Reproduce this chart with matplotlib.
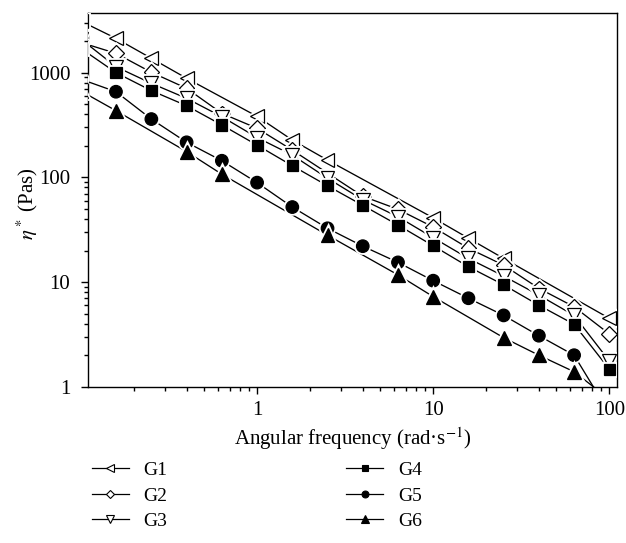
import numpy as np
import matplotlib
matplotlib.use("Agg")
import matplotlib.pyplot as plt
from matplotlib.lines import Line2D
from matplotlib.ticker import FixedLocator, LogLocator, NullFormatter, FixedFormatter
import matplotlib.patheffects as pe

plt.rcParams['font.family'] = ['Liberation Serif', 'DejaVu Serif']
plt.rcParams['mathtext.fontset'] = 'stix'

nan = np.nan
freq = [0.1, 0.158, 0.251, 0.398, 0.631, 1.0, 1.585, 2.512, 3.981, 6.31,
        10.0, 15.85, 25.12, 39.81, 63.1, 100.0]

series_names = ["G1", "G2", "G3", "G4", "G5", "G6"]
g1 = [3100, 2125, 1370, 883, nan, 382, 227, 146, nan, nan, 41, 26.2, 16.8, nan, nan, 4.5]
g2 = [1940, 1528, 1007, 708, 408, 294, 182, nan, 66, 49.5, 33.5, 21, 14.5, 8.7, 5.8, 3.19]
g3 = [2090, 1138, 790, 568, 379, 240, 163, 98, 61, 42, 26.5, 16.8, 11.4, 7.5, 4.8, 1.76]
g4 = [1700, 1000, 673, 483, 316, 203, 129, 83, 54, 35, 22.2, 14, 9.4, 6.0, 3.95, 1.47]
g5 = [865, 657, 360, 216, 144, 89, 52, 32.6, 22, 15.4, 10.3, 7.0, 4.8, 3.07, 2.0, 0.56]
g6 = [667, 433, nan, 176, 107, nan, nan, 28, nan, 11.7, 7.25, nan, 2.94, 2.0, 1.39, 0.76]
values = [g1, g2, g3, g4, g5, g6]

x_ticks = [1, 10, 100]
x_ticklabels = ["1", "10", "100"]
y_ticks = [1, 10, 100, 1000]
y_ticklabels = ["1", "10", "100", "1000"]

styles = [
    dict(marker='<', mfc='white', ms=10),
    dict(marker='D', mfc='white', ms=8),
    dict(marker='v', mfc='white', ms=10),
    dict(marker='s', mfc='black', ms=8),
    dict(marker='o', mfc='black', ms=9),
    dict(marker='^', mfc='black', ms=10),
]

fig = plt.figure(figsize=(6.26, 5.43), dpi=100)
ax = fig.add_axes([0.141, 0.2878, 0.844, 0.688])
ax.set_xscale('log')
ax.set_yscale('log')

x_arr = np.array(freq)
for name, vals, st in zip(series_names, values, styles):
    y = np.array(vals, dtype=float)
    m = np.isfinite(y)
    ax.plot(x_arr[m], y[m], '-', color='black', lw=0.95, zorder=2)
    ax.plot(x_arr[m], y[m], ls='none', marker=st['marker'], ms=st['ms'],
            mfc=st['mfc'], mec='black', mew=0.9, zorder=3,
            path_effects=[pe.withStroke(linewidth=3.5, foreground='white')])

ax.set_xlim(0.11, 110)
ax.set_ylim(1, 3700)

ax.xaxis.set_major_locator(FixedLocator(x_ticks))
ax.xaxis.set_major_formatter(FixedFormatter(x_ticklabels))
ax.yaxis.set_major_locator(FixedLocator(y_ticks))
ax.yaxis.set_major_formatter(FixedFormatter(y_ticklabels))
ax.xaxis.set_minor_locator(LogLocator(base=10, subs=np.arange(2, 10)))
ax.yaxis.set_minor_locator(LogLocator(base=10, subs=np.arange(2, 10)))
ax.xaxis.set_minor_formatter(NullFormatter())
ax.yaxis.set_minor_formatter(NullFormatter())
ax.tick_params(which='both', direction='out', top=False, right=False, width=1.0,
               labelsize=15)
ax.tick_params(which='major', length=5, pad=5)
ax.tick_params(axis='y', which='major', pad=8)
ax.tick_params(which='minor', length=3)
for sp in ax.spines.values():
    sp.set_linewidth(1.0)

ax.set_xlabel('Angular frequency (rad·s$^{-1}$)', fontsize=15, labelpad=4)
ax.set_ylabel(r'$\eta^*$ (Pas)', fontsize=15)
ax.yaxis.set_label_coords(-0.092, 0.49)

handles = []
for st in styles:
    handles.append(Line2D([], [], color='black', lw=0.9, marker=st['marker'],
                          ms=st['ms'] * 0.55, mfc=st['mfc'], mec='black', mew=0.8))
fig.legend(handles, series_names, ncol=2, loc='upper left',
           bbox_to_anchor=(0.147, 0.150), frameon=False, fontsize=14,
           handlelength=1.9, handletextpad=0.75, columnspacing=9.2,
           labelspacing=0.40, borderpad=0, borderaxespad=0)

fig.savefig('out.png', dpi=100)
